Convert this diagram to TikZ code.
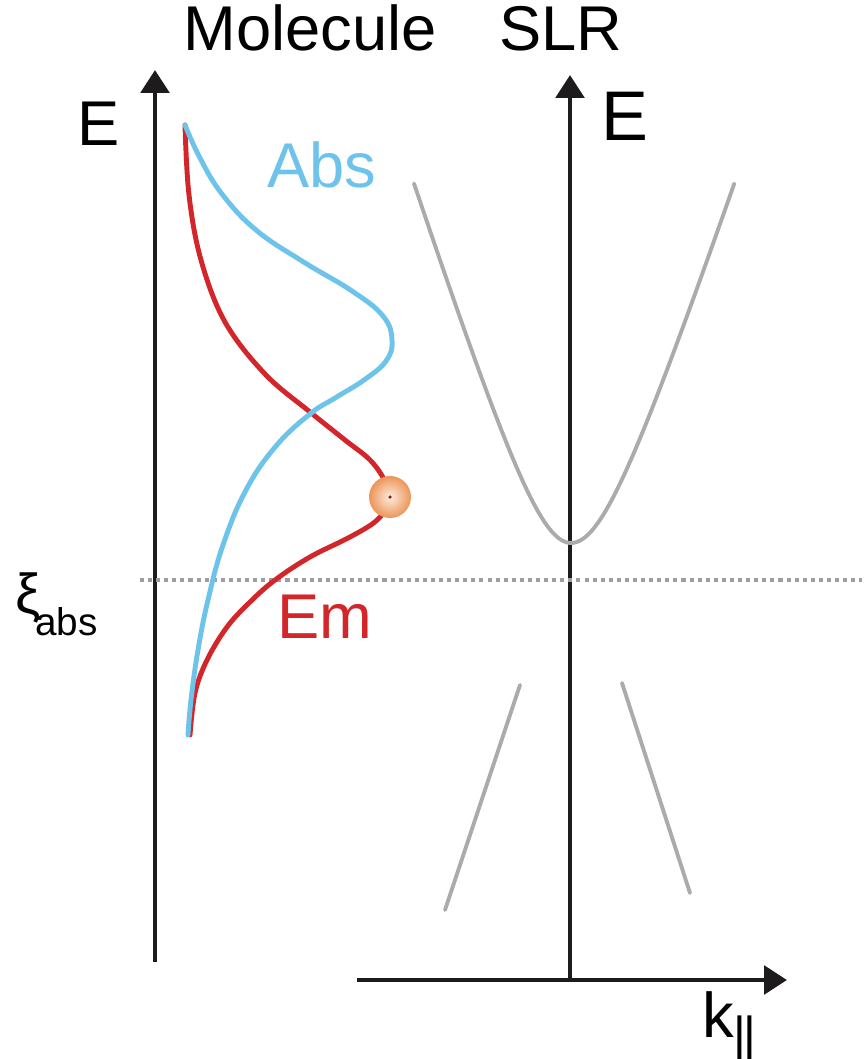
\documentclass[tikz,border=0pt]{standalone}
\usepackage{fontspec}
\setmainfont{Liberation Sans}
\usetikzlibrary{arrows.meta}

\definecolor{axisblack}{HTML}{1E1B1C}
\definecolor{absblue}{HTML}{6EC3EA}
\definecolor{emred}{HTML}{D2262A}
\definecolor{bandgray}{HTML}{ABABAB}
\definecolor{dotgray}{HTML}{9E9E9E}
\definecolor{ballin}{HTML}{FDEBDD}
\definecolor{ballout}{HTML}{EC9558}

\begin{document}
\begin{tikzpicture}[x=0.02cm, y=-0.02cm,
  axis/.style={line width=2.8pt, draw=axisblack, -{Triangle[length=13pt,width=16pt]}},
  spec/.style={line width=2.8pt, line cap=round, line join=round},
  band/.style={line width=2.2pt, draw=bandgray, line cap=round},
  big/.style={font=\fontsize{36}{40}\selectfont, inner sep=0pt}]
  \useasboundingbox (0,0) rectangle (866,1059);

  % axes
  \coordinate (molbot) at (155,962);
  \coordinate (moltop) at (155,70);
  \coordinate (slrbot) at (570,980);
  \coordinate (slrtop) at (570,75);
  \coordinate (kleft) at (357,980);
  \coordinate (kright) at (787,980);
  \draw[axis] (molbot) -- (moltop);
  \draw[axis] (slrbot) -- (slrtop);
  \draw[axis] (kleft) -- (kright);

  % absorption level
  \coordinate (xileft) at (140,580);
  \coordinate (xiright) at (862,580);
  \draw[dotgray, line width=2.3pt, dash pattern=on 2.3pt off 2.3pt] (xileft) -- (xiright);

  % SLR bands
  \draw[band] plot[domain=-157:157, samples=90] ({571+\x*(\x>0 ? 1.04 : 1)}, {693-150*sqrt(1+(0.02067*\x)*(0.02067*\x))});
  \coordinate (lowLa) at (520,685);
  \coordinate (lowLb) at (445,910);
  \coordinate (lowRa) at (622,683);
  \coordinate (lowRb) at (690,893);
  \draw[band] (lowLa) -- (lowLb);
  \draw[band] (lowRa) -- (lowRb);

  % molecular spectra
  \draw[spec, emred] plot[smooth, tension=0.6] coordinates {(185,125) (189,195) (201,260) (225,322) (265,374) (310,412) (345,440) (371,461) (386,484) (387,505) (376,521) (350,537) (310,557) (275,580) (250,602) (227,627) (207,660) (195,693) (190,735)};
  \draw[spec, absblue] plot[smooth, tension=0.7] coordinates {(185,125) (200,158) (222,194) (256,230) (302,261) (352,291) (383,316) (392,340) (386,361) (364,380) (335,398) (310,414) (276,446) (246,490) (223,545) (208,600) (198,650) (191,700) (188,735)};

  % emitting state
  \node[circle, minimum size=42*0.02cm, inner sep=0pt, inner color=ballin, outer color=ballout] (ball) at (390,497) {};
  \fill[emred!70!black] (ball.center) circle (1pt);

  % labels
  \node[big, anchor=base] (molhead) at (310,50) {Molecule};
  \node[big, anchor=base] (slrhead) at (561,50) {SLR};
  \node[big, anchor=base] (molEn) at (99,145) {E};
  \node[anchor=base, inner sep=0pt, font=\fontsize{40}{44}\selectfont] (slrEn) at (625,140) {E};
  \node[big, anchor=base, text=absblue] (abslbl) at (322,187) {Abs};
  \node[big, anchor=base, text=emred] (emlbl) at (325,638) {Em};
  \node[anchor=base west, inner sep=0pt] (xiabs) at (15,613) {\fontsize{32}{36}\selectfont ξ\kern-3pt\raisebox{-13pt}{\fontsize{22}{26}\selectfont abs}};
  \node[anchor=base west, inner sep=0pt] (kpar) at (702,1037) {\fontsize{36}{40}\selectfont k\raisebox{-8pt}{\fontsize{28}{32}\selectfont |\kern-2pt|}};
\end{tikzpicture}
\end{document}
